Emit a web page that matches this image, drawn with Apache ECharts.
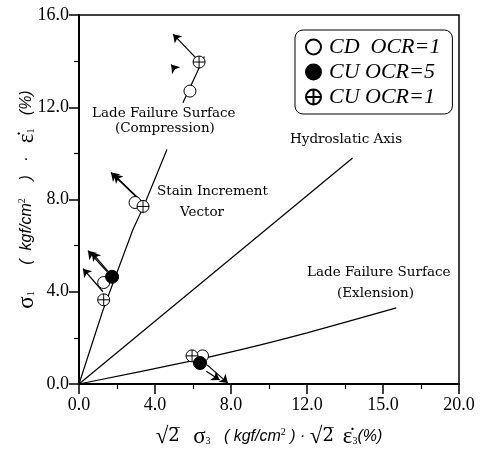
<!DOCTYPE html>
<html>
<head>
<meta charset="utf-8">
<script src="https://cdn.jsdelivr.net/npm/echarts@6/dist/echarts.min.js"></script>
<style>html,body{margin:0;padding:0;background:#fff}#c{width:481px;height:451px}</style>
</head>
<body>
<div id="c"></div>
<script>
// ---- data ----
const xTickLabels = ['0.0', '4.0', '8.0', '12.0', '15.0', '20.0'];
const yTickLabels = ['0.0', '4.0', '8.0', '12.0', '16.0'];

const compressionLine = [[0, 0], [1.26, 3.2], [2.84, 6.7], [3.4, 7.7], [4.63, 10.17], '-', [5.47, 12.2], [6.6, 14.2]];
const hydrostaticLine = [[0, 0], [14.4, 9.8]];
const extensionLine = [[0, 0], [5.68, 0.96], [8.47, 1.48], [12.0, 2.22], [16.7, 3.3]];

const cdOcr1 = [[5.84, 12.7], [2.95, 7.87], [1.3, 4.4], [6.5, 1.22]];
const cuOcr5 = [[1.74, 4.65], [6.37, 0.91]];
const cuOcr1 = [[6.32, 13.96], [3.37, 7.7], [1.3, 3.65], [5.95, 1.22]];

const arrowStarts = [[6.2, 14.1], [5.0, 13.7], [3.16, 8.0], [3.3, 7.92], [1.47, 4.87], [1.62, 4.8], [1.26, 4.0], [6.74, 0.83], [6.7, 0.55]];
const arrowEnds   = [[4.95, 15.17], [4.85, 13.85], [1.68, 9.17], [1.84, 9.08], [0.47, 5.78], [0.68, 5.7], [0.21, 5.0], [7.84, 0.04], [7.4, 0.17]];

const seriesNames = ['CD  OCR=1', 'CU OCR=5', 'CU OCR=1'];

// ---- chart ----
const crossPath = 'path://M0,-10A10,10 0 1,1 0,10A10,10 0 1,1 0,-10Z M-10,0L10,0 M0,-10L0,10';
const chart = echarts.init(document.getElementById('c'));
const serif = 'Liberation Serif';
const annFont = '13.5px "DejaVu Serif"';

const yName = '{g|σ}{sb|1}{i|      (  kgf/cm}{sp|2}{i|    )   ·   }{g|ε̇}{sb|1}{i|   (%)}';
const xName = '{g|√}{o|2\u0305}{i|   }{g|σ}{sb|3}{i|   ( kgf/cm}{sp|2}{i| ) · }{g|√}{o|2\u0305}{i|  }{g|ε̇}{sb|3}{i|(%)}';
const richName = {
  g: {fontFamily: serif, fontSize: 23, color: '#000'},
  i: {fontFamily: 'Liberation Sans', fontStyle: 'italic', fontSize: 16, color: '#000'},
  sb: {fontFamily: serif, fontSize: 10, color: '#000', padding: [9, 0, 0, 0]},
  sp: {fontFamily: serif, fontSize: 10, color: '#000', padding: [0, 0, 9, 0]},
  o: {fontFamily: 'DejaVu Serif', fontSize: 18, color: '#000'}
};

const axisCommon = {
  type: 'value',
  nameLocation: 'middle',
  nameMoveOverlap: false,
  axisLine: {show: true, onZero: false, lineStyle: {color: '#000', width: 2}},
  axisTick: {show: true, inside: false, length: 10, lineStyle: {color: '#000', width: 1.5}},
  minorTick: {show: true, splitNumber: 2, length: 5, lineStyle: {color: '#000', width: 1.2}},
  splitLine: {show: false},
  axisLabel: {color: '#000', fontFamily: serif, fontSize: 18}
};

chart.setOption({
  animation: false,
  backgroundColor: '#fff',
  grid: {left: 79, right: 22, top: 15, bottom: 67, containLabel: false, outerBoundsMode: 'none',
    show: true, borderColor: '#000', borderWidth: 1.5, backgroundColor: 'transparent'},
  xAxis: Object.assign({}, axisCommon, {
    min: 0, max: 20, interval: 4,
    name: xName, nameGap: 41, nameTextStyle: {rich: richName},
    axisLabel: Object.assign({}, axisCommon.axisLabel, {margin: 12, formatter: (v) => xTickLabels[Math.round(v / 4)]})
  }),
  yAxis: Object.assign({}, axisCommon, {
    min: 0, max: 16, interval: 4,
    name: yName, nameGap: 41, nameTextStyle: {rich: richName},
    axisLabel: Object.assign({}, axisCommon.axisLabel, {margin: 10, formatter: (v) => yTickLabels[Math.round(v / 4)]})
  }),
  legend: {
    orient: 'vertical', left: 295, top: 30,
    padding: [6, 12, 6, 10],
    itemGap: 3, itemWidth: 15, itemHeight: 15,
    borderColor: '#000', borderWidth: 1, borderRadius: 8,
    textStyle: {fontFamily: serif, fontStyle: 'italic', fontSize: 22, color: '#000', padding: [0, 0, 0, 3]},
    data: [
      {name: seriesNames[0], icon: 'circle'},
      {name: seriesNames[1], icon: 'circle'},
      {name: seriesNames[2], icon: crossPath}
    ]
  },
  graphic: [
    {type: 'text', left: 92, top: 106, style: {text: 'Lade Failure Surface', font: annFont, fill: '#000'}},
    {type: 'text', left: 115, top: 121, style: {text: '(Compression)', font: annFont, fill: '#000'}},
    {type: 'text', left: 157, top: 184, style: {text: 'Stain Increment', font: annFont, fill: '#000'}},
    {type: 'text', left: 180, top: 205, style: {text: 'Vector', font: annFont, fill: '#000'}},
    {type: 'text', left: 290, top: 132, style: {text: 'Hydroslatic Axis', font: annFont, fill: '#000'}},
    {type: 'text', left: 307, top: 265, style: {text: 'Lade Failure Surface', font: annFont, fill: '#000'}},
    {type: 'text', left: 337, top: 286, style: {text: '(Exlension)', font: annFont, fill: '#000'}}
  ],
  series: [
    {type: 'line', data: compressionLine, symbol: 'none', connectNulls: false, lineStyle: {color: '#000', width: 1.2}, silent: true, z: 2},
    {type: 'line', data: hydrostaticLine, symbol: 'none', lineStyle: {color: '#000', width: 1.2}, silent: true, z: 2},
    {type: 'line', data: extensionLine, symbol: 'none', smooth: 0.3, lineStyle: {color: '#000', width: 1.2}, silent: true, z: 2},
    {type: 'lines', coordinateSystem: 'cartesian2d', z: 3,
      symbol: ['none', 'arrow'], symbolSize: 8,
      lineStyle: {color: '#000', width: 1.2, opacity: 1},
      data: arrowStarts.map((s, i) => ({coords: [s, arrowEnds[i]]}))},
    {type: 'scatter', name: seriesNames[0], data: cdOcr1, symbol: 'circle', symbolSize: 12, z: 4,
      itemStyle: {color: '#fff', borderColor: '#000', borderWidth: 1, opacity: 1}},
    {type: 'scatter', name: seriesNames[1], data: cuOcr5, symbol: 'circle', symbolSize: 13, z: 5,
      itemStyle: {color: '#000', borderColor: '#000', borderWidth: 1, opacity: 1}},
    {type: 'scatter', name: seriesNames[2], data: cuOcr1, symbol: crossPath, symbolSize: 12, z: 4,
      itemStyle: {color: '#fff', borderColor: '#000', borderWidth: 1, opacity: 1}}
  ]
});
</script>
</body>
</html>
